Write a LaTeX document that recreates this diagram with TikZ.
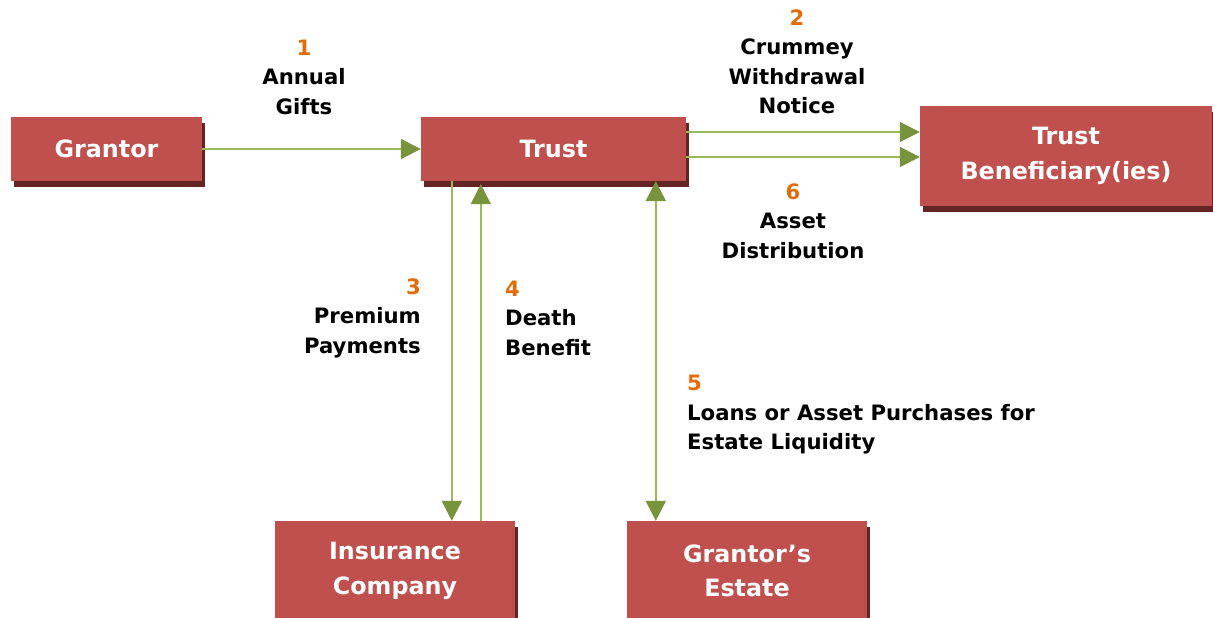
\documentclass[tikz,border=0pt]{standalone}
\usepackage{fontspec}
\setmainfont{DejaVu Sans}
\usetikzlibrary{calc,shadows,arrows.meta}

\definecolor{boxred}{HTML}{C0504D}
\definecolor{boxshade}{HTML}{632523}
\definecolor{numorange}{HTML}{E36C09}
\definecolor{linegreen}{HTML}{9BBB59}
\definecolor{tipgreen}{HTML}{77933C}

\tikzset{
  party/.style={rectangle,fill=boxred,text=white,inner sep=0pt,align=center,
    font=\fontsize{23.8}{34.5}\selectfont\bfseries,
    drop shadow={shadow xshift=3pt,shadow yshift=-5.5pt,fill=boxshade,opacity=1}},
  flow/.style={draw=linegreen,line width=1.8pt,
    -{Triangle[width=20pt,length=20pt,fill=tipgreen,color=tipgreen]}},
  flowboth/.style={flow,
    {Triangle[width=20pt,length=20pt,fill=tipgreen,color=tipgreen]}-{Triangle[width=20pt,length=20pt,fill=tipgreen,color=tipgreen]}},
  lbl/.style={inner sep=0pt,font=\fontsize{21.2}{29.5}\selectfont\bfseries},
}
\newcommand{\stepno}[1]{\textcolor{numorange}{#1}}

\begin{document}
\begin{tikzpicture}[x=1pt,y=-1pt]
\useasboundingbox (0,0) rectangle (1213,618);

% parties
\node[party,minimum width=191pt,minimum height=64pt] (grantor) at (106.5,149) {Grantor};
\node[party,minimum width=265pt,minimum height=64pt] (trust) at (553.5,149) {Trust};
\node[party,minimum width=292pt,minimum height=100pt] (benef) at (1066,156) {Trust\\Beneficiary(ies)};
\node[party,minimum width=240pt,minimum height=100pt] (insur) at (395,571) {Insurance\\Company};
\node[party,minimum width=240pt,minimum height=100pt] (estate) at (747,571) {Grantor’s\\Estate};

% attach points on the trust
\coordinate (n2) at ($(trust.east)+(0,-17)$);
\coordinate (n6) at ($(trust.east)+(0,8)$);
\coordinate (p3) at ($(trust.south west)+(31,0)$);
\coordinate (p4) at ($(trust.south west)+(60,3)$);
\coordinate (p5) at ($(trust.south west)+(235,0)$);

% flows
\draw[flow] (grantor) -- (trust);
\draw[flow] (n2) -- (n2 -| benef.west);
\draw[flow] (n6) -- (n6 -| benef.west);
\draw[flow] (p3) -- (p3 |- insur.north);
\draw[flow] (p4 |- insur.north) -- (p4);
\draw[flowboth] (p5) -- (p5 |- estate.north);

% step labels
\node[lbl,align=center] (l1) at (304,77) {\stepno{1}\\Annual\\Gifts};
\node[lbl,align=center] (l2) at (797,62) {\stepno{2}\\Crummey\\Withdrawal\\Notice};
\node[lbl,align=center] (l6) at (793,221) {\stepno{6}\\Asset\\Distribution};
\node[lbl,align=right,anchor=east] (l3) at (421,318) {\stepno{3}\\Premium\\Payments};
\node[lbl,align=left,anchor=west] (l4) at (505,318) {\stepno{4}\\Death\\Benefit};
\node[lbl,align=left,anchor=west] (l5) at (687,415) {\stepno{5}\\Loans or Asset Purchases for\\Estate Liquidity};
\end{tikzpicture}
\end{document}
